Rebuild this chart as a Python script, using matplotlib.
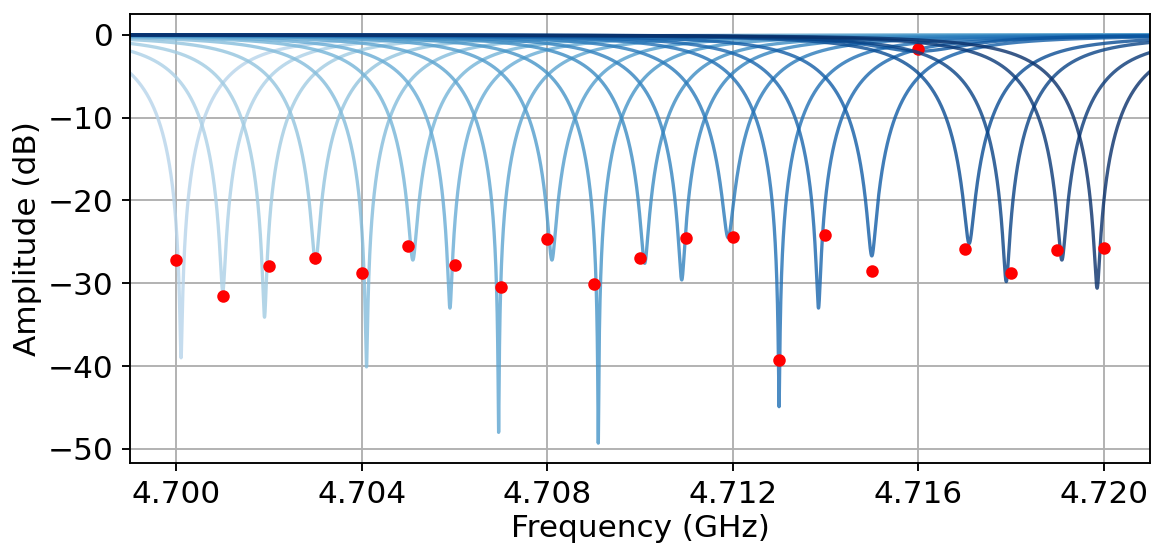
import numpy as np
import matplotlib
matplotlib.use("Agg")
import matplotlib.pyplot as plt

# resonance centres (GHz) and notch depths (dB)
f0 = [4.7001, 4.7010, 4.7019, 4.7030, 4.7041, 4.7051, 4.7059, 4.70695, 4.7081, 4.7091, 4.7101,
      4.7109, 4.7119, 4.7130, 4.71385, 4.7150, 4.7160, 4.7171, 4.7179, 4.7191, 4.71986]
depth = [-39.0, -31.0, -34.1, -27.6, -40.1, -27.2, -33.0, -48.0, -27.2, -49.3, -27.6,
         -29.6, -24.5, -44.9, -33.0, -26.7, -2.0, -25.2, -29.8, -27.2, -30.6]
Q = 1550

# measured points (red dots)
f_meas = [4.700, 4.701, 4.702, 4.703, 4.704, 4.705, 4.706, 4.707, 4.708, 4.709, 4.710,
          4.711, 4.712, 4.713, 4.714, 4.715, 4.716, 4.717, 4.718, 4.719, 4.720]
a_meas = [-27.2, -31.6, -27.9, -27.0, -28.8, -25.5, -27.8, -30.5, -24.7, -30.1, -27.0,
          -24.5, -24.4, -39.3, -24.2, -28.5, -1.7, -25.9, -28.8, -26.0, -25.8]

f = np.linspace(4.699, 4.721, 22001)

plt.rcParams['font.size'] = 13.2

fig = plt.figure(figsize=(1154 / 170, 550 / 170), dpi=170)
ax = fig.add_axes([0.1127, 0.1582, 0.8838, 0.8163])

colors = plt.cm.Blues(np.linspace(0.3, 1.0, len(f0)))
for i in range(len(f0)):
    r = 1 - 10 ** (depth[i] / 20)
    x = (f - f0[i]) / f0[i]
    s21 = 1 - r / (1 + 2j * Q * x)
    ax.plot(f, 20 * np.log10(np.abs(s21)), color=colors[i], lw=1.4, alpha=0.8)
    ax.plot(f_meas[i], a_meas[i], 'o', color='red', ms=4.3)

ax.set_xlim(4.699, 4.721)
ax.set_ylim(-51.7, 2.5)
ax.set_xticks(np.arange(4.700, 4.7201, 0.004))
ax.set_xticklabels(['%.3f' % t for t in np.arange(4.700, 4.7201, 0.004)])
ax.set_yticks([0, -10, -20, -30, -40, -50])
ax.grid(True)
ax.set_xlabel('Frequency (GHz)', labelpad=2.5)
ax.set_ylabel('Amplitude (dB)', labelpad=2.5)

fig.savefig('out.png', dpi=170)
